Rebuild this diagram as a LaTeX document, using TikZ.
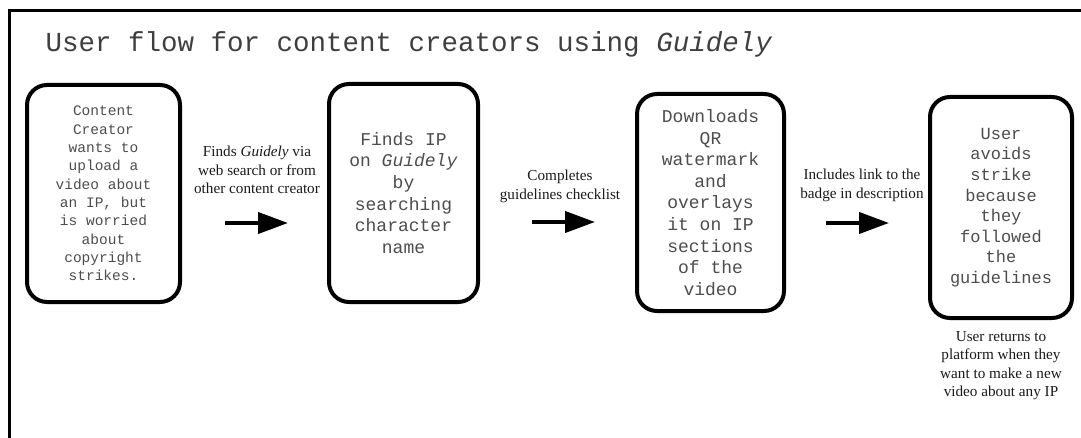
\documentclass[tikz,border=0pt]{standalone}
\usepackage{fontspec}
\setmainfont{Liberation Serif}
\setmonofont{Liberation Mono}
\usetikzlibrary{arrows.meta}
\definecolor{boxtext}{HTML}{4D4D4D}
\definecolor{titletext}{HTML}{3F3F3F}
\definecolor{labeltext}{HTML}{1A1A1A}
\tikzset{
  stepbox/.style={draw=black, line width=4pt, rounded corners=20pt, align=center,
    text=boxtext, inner sep=0pt},
  edgelabel/.style={align=center, text=labeltext, inner sep=0pt,
    font=\fontsize{15.2}{18.3}\selectfont},
  flowarrow/.style={line width=4pt, -{Triangle[length=30pt,width=21pt]}},
  frameline/.style={line width=3pt},
}
\begin{document}
\begin{tikzpicture}[x=1pt,y=-1pt]
\useasboundingbox (0,0) rectangle (1081,438);
\clip (0,0) rectangle (1081,438);
\fill[white] (0,0) rectangle (1081,438);

% outer frame (runs off the right and bottom edges)
\draw[frameline] (9.5,470) -- (9.5,10.5) -- (1110,10.5);

% title
\node[anchor=base west, inner sep=0pt, text=titletext,
      font={\ttfamily\fontsize{27.5}{33}\selectfont}] (title) at (45.5,51.7)
  {User flow for content creators using \textit{Guidely}};

% steps
\node[stepbox, minimum width=153pt, minimum height=217pt,
      font={\ttfamily\fontsize{14.5}{18.3}\selectfont}] (b1) at (103.5,193.5)
  {Content\\Creator\\wants to\\upload a\\video about\\an IP, but\\is worried\\about\\copyright\\strikes.};
\node[stepbox, minimum width=149pt, minimum height=218pt,
      font={\ttfamily\fontsize{18}{21.7}\selectfont}] (b2) at (403.5,193)
  {Finds IP\\on \textit{Guidely}\\by\\searching\\character\\name};
\node[stepbox, minimum width=147pt, minimum height=217pt,
      font={\ttfamily\fontsize{18}{21.6}\selectfont}] (b3) at (710.5,202.5)
  {Downloads\\QR\\watermark\\and\\overlays\\it on IP\\sections\\of the\\video};
\node[stepbox, minimum width=142pt, minimum height=221pt,
      font={\ttfamily\fontsize{17}{20.6}\selectfont}] (b4) at (1001,207.5)
  {User\\avoids\\strike\\because\\they\\followed\\the\\guidelines};

% transition labels
\node[edgelabel] (l1) at (257,170)
  {Finds \textit{Guidely} via\\web search or from\\other content creator};
\node[edgelabel] (l2) at (560,186.5)
  {Completes\\guidelines checklist};
\node[edgelabel] (l3) at (862,185.3)
  {Includes link to the\\badge in description};
\node[edgelabel] (l4) at (1001,365.8)
  {User returns to\\platform when they\\want to make a new\\video about any IP};

% arrows
\coordinate (a1s) at (225,223);
\coordinate (a1e) at (288,223);
\coordinate (a2s) at (532,222);
\coordinate (a2e) at (595,222);
\coordinate (a3s) at (826,223);
\coordinate (a3e) at (889,223);
\draw[flowarrow] (a1s) -- (a1e);
\draw[flowarrow] (a2s) -- (a2e);
\draw[flowarrow] (a3s) -- (a3e);
\end{tikzpicture}
\end{document}
